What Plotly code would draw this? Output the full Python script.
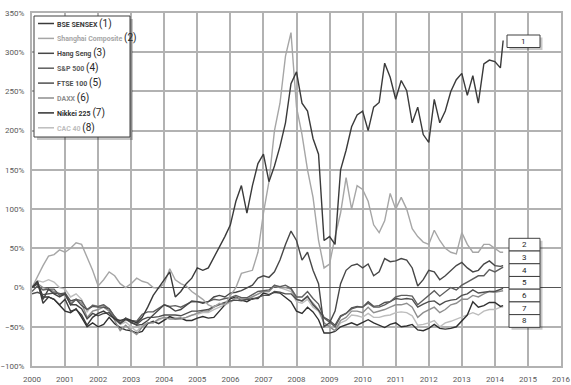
import plotly.graph_objects as go

# ---------------- data (bi-monthly readings, % change since Jan 2000) ----------------
years = [2000 + i / 6 for i in range(86)] + [2014.25]

names = ["BSE SENSEX", "Shanghai Composite", "Hang Seng", "S&P 500",
         "FTSE 100", "DAXX", "Nikkei 225", "CAC 40"]

bse = [0, 8, -20, -12, -15, -22,
       -15, -30, -28, -35, -48, -38,
       -33, -30, -35, -40, -42, -40,
       -42, -45, -38, -25, -10, 0,
       10, 20, -12, -5, 5, 12,
       25, 22, 25, 38, 50, 65,
       80, 110, 130, 95, 130, 158,
       170, 135, 155, 180, 210, 260,
       275, 235, 225, 190, 170, 60,
       65, 55, 150, 175, 205, 220,
       225, 200, 230, 236, 286, 268,
       240, 264, 251, 210, 230, 195,
       185, 240, 210, 225, 250, 265,
       273, 245, 270, 235, 285, 290,
       288, 280, 315]

shanghai = [0, 15, 28, 40, 42, 48,
            45, 50, 57, 55, 38, 22,
            2, 10, 20, 15, 5, 0,
            5, 12, 8, 6, 0, -1,
            5, 24, 10, 5, 2, -5,
            -10, -15, -22, -25, -20, -22,
            -10, 0, 18, 20, 22, 45,
            95, 135, 200, 235, 295, 325,
            230, 195, 150, 115, 60, 25,
            30, 65, 95, 140, 100, 130,
            125, 110, 80, 70, 85, 120,
            100, 115, 100, 75, 65, 58,
            55, 73, 60, 50, 45, 43,
            70, 55, 45, 45, 55, 55,
            50, 45, 45]

hangseng = [0, 5, -15, -2, -8, -12,
            -8, -22, -22, -27, -40, -33,
            -36, -33, -32, -40, -46, -41,
            -44, -48, -47, -42, -35, -28,
            -22, -25, -30, -28, -23, -17,
            -18, -20, -18, -12, -10, -12,
            -7, -6, -4, 0, 3, 12,
            15, 13, 20, 35, 55, 72,
            60, 35, 45, 22, 5, -50,
            -45, -30, 5, 22, 28, 30,
            25, 30, 15, 20, 37, 33,
            34, 37, 35, 25, 2, 10,
            22, 20, 10, 15, 22, 28,
            32, 25, 20, 22, 30, 34,
            28, 27, 28]

sp500 = [-5, 2, -3, -2, -2, -10,
         -7, -22, -15, -17, -28, -23,
         -24, -22, -27, -38, -45, -39,
         -42, -43, -34, -31, -31, -27,
         -22, -24, -23, -25, -22, -18,
         -18, -19, -18, -15, -16, -14,
         -13, -10, -13, -13, -9, -5,
         -4, -3, 3, 1, 3, -1,
         -12, -12, -5, -14, -21, -39,
         -44, -50, -37, -33, -27, -25,
         -25, -20, -25, -25, -22, -18,
         -12, -10, -10, -11, -22, -16,
         -11, -4, -11, -5, 0, -3,
         3, 7, 11, 15, 15, 23,
         20, 24, 26]

ftse = [-8, -6, -9, -8, -7, -8,
        -7, -17, -15, -23, -28, -24,
        -25, -25, -27, -37, -45, -39,
        -45, -47, -41, -38, -38, -37,
        -35, -35, -35, -36, -33, -30,
        -30, -29, -28, -24, -21, -19,
        -17, -16, -17, -15, -15, -12,
        -10, -10, -5, -6, -8, -8,
        -15, -17, -11, -22, -29, -38,
        -42, -48, -36, -33, -26, -24,
        -25, -18, -24, -23, -19, -18,
        -14, -15, -14, -15, -25, -21,
        -18, -17, -22, -18, -16, -15,
        -10, -8, -3, -7, -6, -5,
        -5, -2, -1]

daxx = [0, 5, 0, -2, -5, -8,
        -10, -20, -15, -20, -38, -30,
        -28, -25, -30, -42, -55, -48,
        -55, -60, -50, -45, -45, -40,
        -38, -40, -40, -40, -38, -35,
        -33, -30, -30, -25, -22, -20,
        -18, -13, -15, -15, -12, -8,
        -5, -5, 2, 0, 0, -2,
        -15, -17, -12, -20, -28, -45,
        -50, -55, -42, -38, -30, -30,
        -32, -25, -32, -30, -28, -25,
        -22, -22, -20, -25, -38, -32,
        -28, -25, -32, -28, -22, -20,
        -15, -15, -10, -12, -8, -5,
        -6, -5, -4]

nikkei = [0, 7, -12, -12, -15, -22,
          -30, -32, -27, -38, -50, -45,
          -50, -47, -38, -46, -51, -54,
          -55, -58, -56, -46, -43, -46,
          -42, -37, -40, -39, -42, -42,
          -39, -37, -39, -38, -30, -22,
          -14, -12, -16, -18, -14, -14,
          -7, -9, -6, -7, -13, -18,
          -30, -33, -25, -31, -41, -58,
          -58, -56, -50, -47, -45, -48,
          -45, -41, -45, -48, -51, -47,
          -45, -50, -49, -47, -54, -55,
          -52, -47, -52, -53, -52, -50,
          -43, -35, -18, -25, -23, -19,
          -19, -24, -23]

cac40 = [0, 9, 7, 10, 7, 0,
         -2, -12, -8, -15, -31, -22,
         -24, -22, -30, -40, -47, -44,
         -50, -56, -48, -45, -45, -42,
         -38, -38, -38, -39, -38, -35,
         -34, -32, -32, -28, -25, -22,
         -19, -13, -16, -15, -12, -8,
         -5, -5, 3, 0, -3, -5,
         -18, -20, -15, -25, -30, -45,
         -50, -55, -45, -42, -35, -36,
         -38, -33, -38, -38, -36, -35,
         -32, -31, -32, -36, -48, -47,
         -45, -42, -50, -45, -43, -40,
         -37, -35, -32, -35, -30, -28,
         -28, -25, -25]

series = [bse, shanghai, hangseng, sp500, ftse, daxx, nikkei, cac40]
colors = ["#3a3a3a", "#a6a6a6", "#474747", "#5e5e5e",
          "#4f4f4f", "#8e8e8e", "#303030", "#bdbdbd"]
end_labels = ["1", "2", "3", "4", "5", "6", "7", "8"]

x_ticks = list(range(2000, 2017))
y_ticks = list(range(-100, 351, 50))

# ---------------- figure ----------------
W, H = 571, 385
L, R, T, B = 32, 10, 13, 19
PW, PH = W - L - R, H - T - B
GRID = "#b2b2b2"


def fx(px):
    return (px - L) / PW


def fy(py):
    return (H - B - py) / PH


fig = go.Figure()
for vals, name, col in reversed(list(zip(series, names, colors))):
    fig.add_trace(go.Scatter(x=years, y=vals, mode="lines", name=name,
                             line=dict(color=col, width=1.4), showlegend=False))

shapes = []
annotations = []

# legend box (drawn manually to match the compact original)
shapes.append(dict(type="rect", xref="paper", yref="paper", layer="above",
                   x0=fx(37), x1=fx(133), y0=fy(140), y1=fy(19),
                   fillcolor="rgba(0,0,0,0.22)", line=dict(width=0)))
shapes.append(dict(type="rect", xref="paper", yref="paper", layer="above",
                   x0=fx(34), x1=fx(130), y0=fy(137), y1=fy(16),
                   fillcolor="white", line=dict(color="#404040", width=1)))
for i, (name, col) in enumerate(zip(names, colors)):
    yy = 23.5 + i * 14.9
    shapes.append(dict(type="line", xref="paper", yref="paper", layer="above",
                       x0=fx(38), x1=fx(54), y0=fy(yy), y1=fy(yy),
                       line=dict(color=col, width=1.5)))
    annotations.append(dict(
        xref="paper", yref="paper", x=fx(55), y=fy(yy), xanchor="left", yanchor="middle",
        showarrow=False,
        text=f"<b>{name}</b> <span style='font-size:10px;color:#262626'>({i + 1})</span>",
        font=dict(family="Roboto", size=7, color=col)))

# end labels boxes
box_specs = [(507, 540, 35, 47.5)]
for k in range(7):
    box_specs.append((509, 540, 238.3 + k * 12.72, 238.3 + (k + 1) * 12.72))
# shadows
shapes.append(dict(type="rect", xref="paper", yref="paper", layer="above",
                   x0=fx(509.5), x1=fx(542.5), y0=fy(50), y1=fy(37.5),
                   fillcolor="rgba(0,0,0,0.22)", line=dict(width=0)))
shapes.append(dict(type="rect", xref="paper", yref="paper", layer="above",
                   x0=fx(511.5), x1=fx(542.5), y0=fy(329.8), y1=fy(240.8),
                   fillcolor="rgba(0,0,0,0.22)", line=dict(width=0)))
for (x0, x1, y0, y1), lab in zip(box_specs, end_labels):
    shapes.append(dict(type="rect", xref="paper", yref="paper", layer="above",
                       x0=fx(x0), x1=fx(x1), y0=fy(y1), y1=fy(y0),
                       fillcolor="white", line=dict(color="#404040", width=1)))
    annotations.append(dict(xref="paper", yref="paper", x=fx((x0 + x1) / 2),
                            y=fy((y0 + y1) / 2), xanchor="center", yanchor="middle",
                            showarrow=False, text=lab,
                            font=dict(family="Roboto", size=8, color="#262626")))

fig.update_layout(
    width=W, height=H,
    margin=dict(l=L, r=R, t=T, b=B, autoexpand=False),
    paper_bgcolor="white", plot_bgcolor="white",
    shapes=shapes, annotations=annotations,
    showlegend=False,
    xaxis=dict(range=[2000, 2016], tickmode="linear", tick0=2000, dtick=1,
               tickformat="d", automargin=False,
               showgrid=True, gridcolor=GRID, gridwidth=2,
               showline=True, linecolor=GRID, linewidth=2, mirror=True, zeroline=False,
               ticks="outside", ticklen=4, tickcolor="rgba(255,255,255,0)",
               tickfont=dict(family="Roboto", size=8, color="#595959")),
    yaxis=dict(range=[-100, 350], tickmode="linear", tick0=-100, dtick=50,
               ticksuffix="%", automargin=False,
               showgrid=True, gridcolor=GRID, gridwidth=2,
               showline=True, linecolor=GRID, linewidth=2, mirror=True,
               zeroline=True, zerolinecolor="#555555", zerolinewidth=1,
               ticks="outside", ticklen=4, tickcolor="rgba(255,255,255,0)",
               tickfont=dict(family="Roboto", size=8, color="#595959")),
)

fig.write_html("out.html", config={"displayModeBar": False},
               post_script="document.body.style.margin='0px';")
